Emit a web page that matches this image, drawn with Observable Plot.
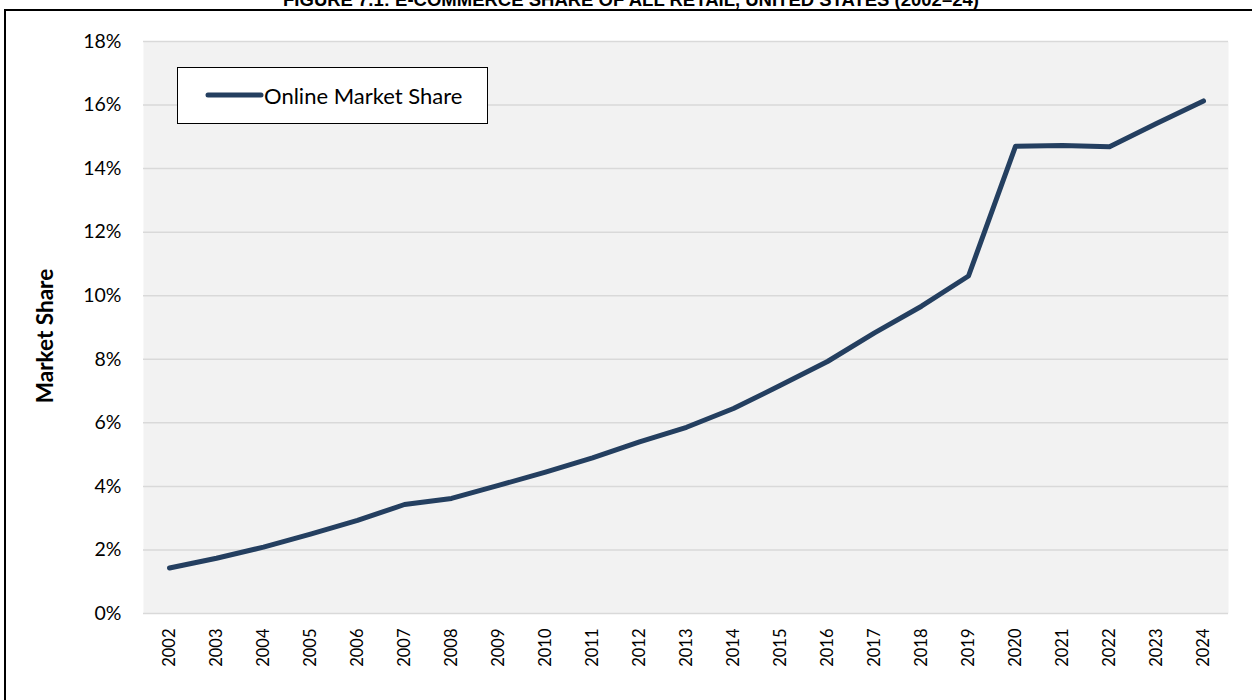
<!DOCTYPE html>
<html><head><meta charset="utf-8">
<script src="https://cdn.jsdelivr.net/npm/d3@7"></script>
<script src="https://cdn.jsdelivr.net/npm/@observablehq/plot@0.6"></script>
<style>
body{margin:0;background:#fff;font-family:Lato,sans-serif;}
#wrap{position:relative;width:1252px;height:700px;overflow:hidden;}
#frame{position:absolute;left:4px;top:9px;width:1320px;height:820px;border:2.5px solid #000;box-sizing:border-box;pointer-events:none;}
#title{position:absolute;top:-8px;left:0;width:1262px;text-align:center;font:bold 18.5px "Liberation Sans",Arial,sans-serif;line-height:16px;white-space:nowrap;color:#000;}
#chart{position:absolute;left:0;top:0;}
#ylab{position:absolute;left:44px;top:336px;transform:translate(-50%,-50%) rotate(-90deg);font:bold 22.5px Lato,sans-serif;white-space:nowrap;color:#000;}
#legend{position:absolute;left:177px;top:67px;width:311px;height:57px;border:1.5px solid #000;background:#fff;box-sizing:border-box;}
#legend svg{position:absolute;left:0;top:0;}
#legend span{position:absolute;left:86px;top:27px;transform:translateY(-50%);font:22px Lato,sans-serif;color:#000;white-space:nowrap;}
</style></head>
<body>
<div id="wrap">
  <div id="chart"></div>
  <div id="title"></div>
  <div id="frame"></div>
  <div id="ylab"></div>
  <div id="legend"></div>
</div>
<script>
const titleText = "FIGURE 7.1: E-COMMERCE SHARE OF ALL RETAIL, UNITED STATES (2002–24)";
const yAxisTitle = "Market Share";
const seriesName = "Online Market Share";
const years = ["2002","2003","2004","2005","2006","2007","2008","2009","2010","2011","2012","2013","2014","2015","2016","2017","2018","2019","2020","2021","2022","2023","2024"];
const share = [1.43,1.74,2.09,2.5,2.93,3.43,3.62,4.03,4.45,4.9,5.4,5.86,6.45,7.18,7.93,8.83,9.67,10.62,14.7,14.73,14.69,15.42,16.13];
const yTicks = [0,2,4,6,8,10,12,14,16,18];
const lineColor = "#243f60";

const data = years.map((y,i)=>({year:y, share:share[i]}));

const chart = Plot.plot({
  width:1252, height:700,
  marginLeft:143, marginRight:24, marginTop:41, marginBottom:87,
  style:{fontFamily:"Lato, sans-serif", background:"transparent", color:"#000"},
  x:{type:"point", domain:years, padding:0.5},
  y:{domain:[0,18]},
  marks:[
    Plot.frame({fill:"#f2f2f2", stroke:null}),
    Plot.gridY(yTicks,{stroke:"#d9d9d9", strokeOpacity:1, strokeWidth:1.5}),
    Plot.lineY(data,{x:"year", y:"share", stroke:lineColor, strokeWidth:5, strokeLinecap:"round", strokeLinejoin:"round"}),
    Plot.axisY(yTicks,{tickSize:0, tickPadding:22, tickFormat:d=>d+"%", label:null, fontSize:19.5, fill:"#000"}),
    Plot.axisX({tickSize:0, tickPadding:15, tickRotate:-90, label:null, fontSize:16.5, fill:"#000"})
  ]
});
document.getElementById("chart").appendChild(chart);
document.getElementById("title").textContent = titleText;
document.getElementById("ylab").textContent = yAxisTitle;
const lg = document.getElementById("legend");
lg.innerHTML = `<svg width="100" height="56"><line x1="30" y1="27" x2="83" y2="27" stroke="${lineColor}" stroke-width="5" stroke-linecap="round"/></svg><span></span>`;
lg.querySelector("span").textContent = seriesName;
</script>
</body></html>
